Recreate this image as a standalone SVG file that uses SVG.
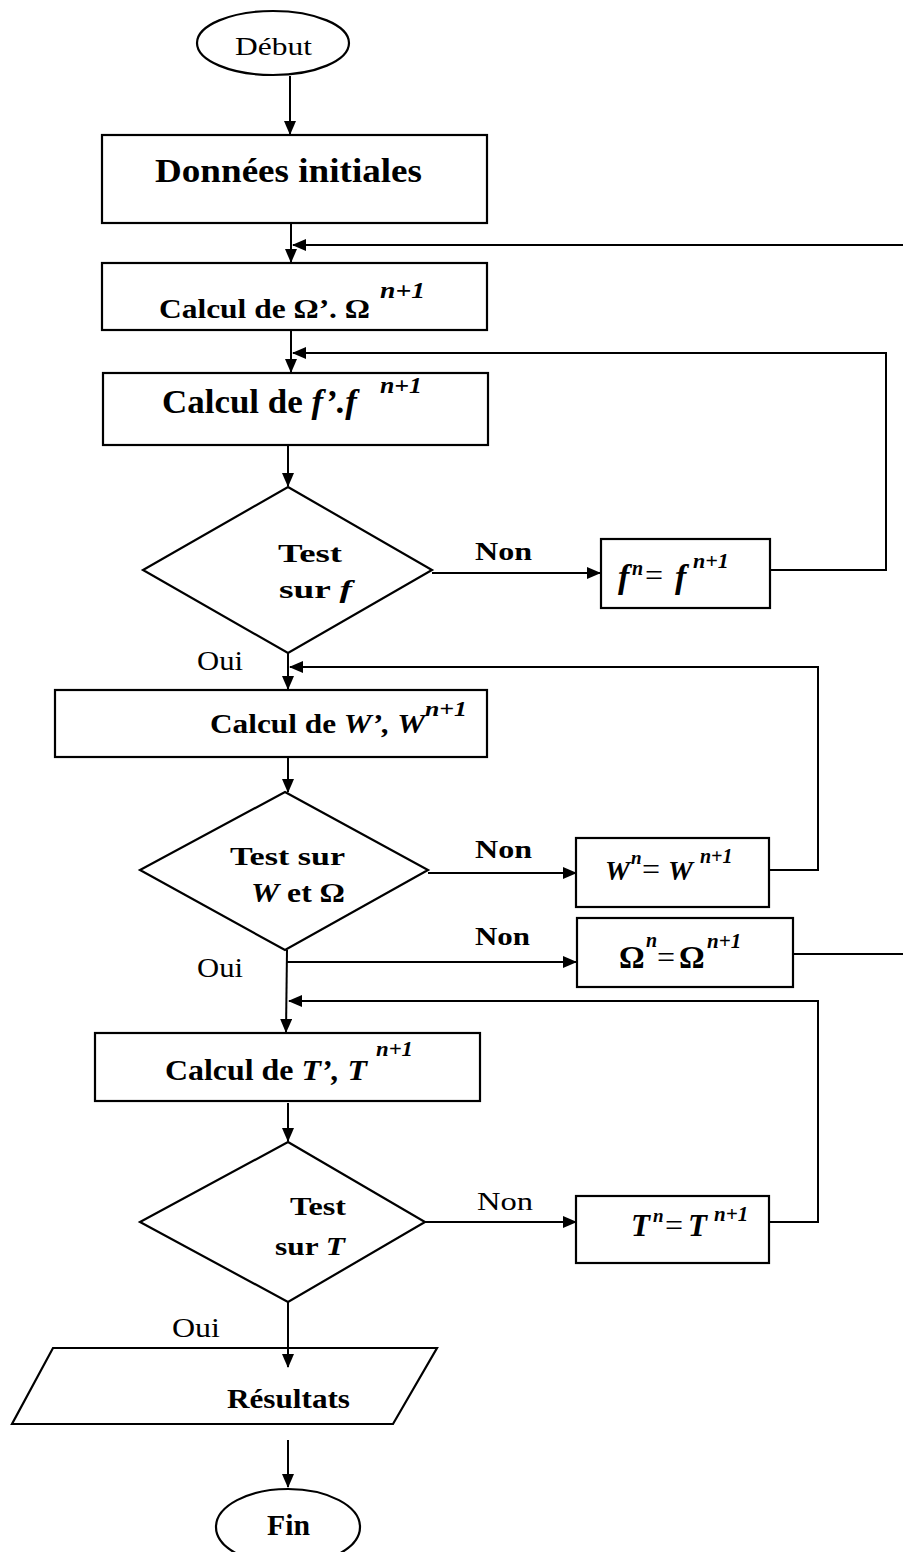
<svg xmlns="http://www.w3.org/2000/svg" width="903" height="1552" viewBox="0 0 903 1552">
<style>
.s{fill:#fff;stroke:#000;stroke-width:2.2}
.c{fill:none;stroke:#000;stroke-width:2}
text{font-family:"Liberation Serif","Times New Roman",serif;fill:#000}
.b{font-weight:bold}
.i{font-style:italic}
.bi{font-weight:bold;font-style:italic}
.r{font-weight:normal;font-style:normal}
</style>
<defs>
<marker id="a" markerUnits="userSpaceOnUse" markerWidth="14" markerHeight="12" refX="13" refY="6" orient="auto">
<path d="M0,0 L14,6 L0,12 Z" fill="#000"/>
</marker>
</defs>
<g id="debut">
<ellipse class="s" cx="273" cy="43" rx="76" ry="32"/>
<text x="235" y="55" font-size="25" textLength="77" lengthAdjust="spacingAndGlyphs">Début</text>
</g>
<g id="donnees">
<rect class="s" x="102" y="135" width="385" height="88"/>
<text class="b" x="155" y="182" font-size="33" textLength="267" lengthAdjust="spacingAndGlyphs">Données initiales</text>
</g>
<g id="calcul-omega">
<rect class="s" x="102" y="263" width="385" height="67"/>
<text class="b" x="159" y="318" font-size="28" textLength="211" lengthAdjust="spacingAndGlyphs">Calcul de Ω’. Ω</text>
<text class="bi" x="380" y="298" font-size="23" textLength="45" lengthAdjust="spacingAndGlyphs">n+1</text>
</g>
<g id="calcul-f">
<rect class="s" x="103" y="373" width="385" height="72"/>
<text class="b" x="162" y="413" font-size="34" textLength="195" lengthAdjust="spacingAndGlyphs">Calcul de <tspan class="bi">f’.f</tspan></text>
<text class="bi" x="380" y="393" font-size="23" textLength="42" lengthAdjust="spacingAndGlyphs">n+1</text>
</g>
<g id="test-f">
<path class="s" d="M288,487 L432,570 L288,653 L143,570 Z"/>
<text class="b" x="278" y="562" font-size="26" textLength="64" lengthAdjust="spacingAndGlyphs">Test</text>
<text class="b" x="279" y="598" font-size="26" textLength="73" lengthAdjust="spacingAndGlyphs">sur <tspan class="bi">f</tspan></text>
</g>
<g id="label-non1"><text class="b" x="475" y="560" font-size="25" textLength="57" lengthAdjust="spacingAndGlyphs">Non</text></g>
<g id="fn">
<rect class="s" x="601" y="539" width="169" height="69"/>
<text class="bi" font-size="34"><tspan x="618" y="588">f</tspan><tspan x="632" y="575" font-size="20">n</tspan><tspan x="645" y="586" class="r" font-size="32">=</tspan><tspan x="675" y="588">f</tspan><tspan x="693" y="568" font-size="22">n+1</tspan></text>
</g>
<g id="label-oui1"><text x="197" y="670" font-size="27" textLength="46" lengthAdjust="spacingAndGlyphs">Oui</text></g>
<g id="calcul-w">
<rect class="s" x="55" y="690" width="432" height="67"/>
<text class="b" x="210" y="733" font-size="27" textLength="215" lengthAdjust="spacingAndGlyphs">Calcul de <tspan class="bi">W’, W</tspan></text>
<text class="bi" x="425" y="716" font-size="21" textLength="42" lengthAdjust="spacingAndGlyphs">n+1</text>
</g>
<g id="test-w">
<path class="s" d="M285,792 L428,870 L285,950 L140,870 Z"/>
<text class="b" x="230" y="865" font-size="26" textLength="115" lengthAdjust="spacingAndGlyphs">Test  sur</text>
<text class="b" x="251" y="902" font-size="27" textLength="94" lengthAdjust="spacingAndGlyphs"><tspan class="bi">W</tspan> et Ω</text>
</g>
<g id="label-non2"><text class="b" x="475" y="858" font-size="25" textLength="57" lengthAdjust="spacingAndGlyphs">Non</text></g>
<g id="wn">
<rect class="s" x="576" y="838" width="193" height="69"/>
<text class="bi" font-size="28"><tspan x="605" y="880">W</tspan><tspan x="631" y="864" font-size="19">n</tspan><tspan x="642" y="880" class="r" font-size="32">=</tspan><tspan x="668" y="880">W</tspan><tspan x="700" y="863" font-size="20">n+1</tspan></text>
</g>
<g id="label-non3"><text class="b" x="475" y="945" font-size="25" textLength="55" lengthAdjust="spacingAndGlyphs">Non</text></g>
<g id="omegan">
<rect class="s" x="577" y="918" width="216" height="69"/>
<text class="b" font-size="32"><tspan x="619" y="968">Ω</tspan><tspan x="646" y="947" font-size="20" class="bi">n</tspan><tspan x="657" y="968" class="r">=</tspan><tspan x="679" y="968">Ω</tspan><tspan x="707" y="948" font-size="21" class="bi">n+1</tspan></text>
</g>
<g id="label-oui2"><text x="197" y="977" font-size="27" textLength="46" lengthAdjust="spacingAndGlyphs">Oui</text></g>
<g id="calcul-t">
<rect class="s" x="95" y="1033" width="385" height="68"/>
<text class="b" x="165" y="1080" font-size="30" textLength="202" lengthAdjust="spacingAndGlyphs">Calcul de <tspan class="bi">T’, T</tspan></text>
<text class="bi" x="376" y="1056" font-size="22" textLength="37" lengthAdjust="spacingAndGlyphs">n+1</text>
</g>
<g id="test-t">
<path class="s" d="M288,1142 L425,1222 L288,1302 L140,1222 Z"/>
<text class="b" x="290" y="1215" font-size="26" textLength="56" lengthAdjust="spacingAndGlyphs">Test</text>
<text class="b" x="275" y="1255" font-size="26" textLength="70" lengthAdjust="spacingAndGlyphs">sur <tspan class="bi">T</tspan></text>
</g>
<g id="label-non4"><text x="477" y="1210" font-size="25" textLength="56" lengthAdjust="spacingAndGlyphs">Non</text></g>
<g id="tn">
<rect class="s" x="576" y="1196" width="193" height="67"/>
<text class="bi" font-size="31"><tspan x="631" y="1236">T</tspan><tspan x="653" y="1222" font-size="19">n</tspan><tspan x="665" y="1236" class="r" font-size="32">=</tspan><tspan x="688" y="1236">T</tspan><tspan x="714" y="1221" font-size="21">n+1</tspan></text>
</g>
<g id="label-oui3"><text x="172" y="1337" font-size="27" textLength="48" lengthAdjust="spacingAndGlyphs">Oui</text></g>
<g id="resultats">
<path class="s" d="M53,1348 L437,1348 L393,1424 L12,1424 Z"/>
<text class="b" x="227" y="1408" font-size="27" textLength="123" lengthAdjust="spacingAndGlyphs">Résultats</text>
</g>
<g id="fin">
<ellipse class="s" cx="288" cy="1527" rx="72" ry="38"/>
<text class="b" x="267" y="1535" font-size="29" textLength="43" lengthAdjust="spacingAndGlyphs">Fin</text>
</g>
<g id="connectors">
<path class="c" d="M290,76 V134" marker-end="url(#a)"/>
<path class="c" d="M291,223 V262" marker-end="url(#a)"/>
<path class="c" d="M903,245 H293" marker-end="url(#a)"/>
<path class="c" d="M793,954 H903"/>
<path class="c" d="M291,330 V372" marker-end="url(#a)"/>
<path class="c" d="M770,570 H886 V353 H293" marker-end="url(#a)"/>
<path class="c" d="M288,445 V486" marker-end="url(#a)"/>
<path class="c" d="M432,573 H600" marker-end="url(#a)"/>
<path class="c" d="M288,653 V689" marker-end="url(#a)"/>
<path class="c" d="M768,870 H818 V667 H290" marker-end="url(#a)"/>
<path class="c" d="M288,757 V792" marker-end="url(#a)"/>
<path class="c" d="M428,873 H576" marker-end="url(#a)"/>
<path class="c" d="M287,950 L286,1032" marker-end="url(#a)"/>
<path class="c" d="M287,962 H576" marker-end="url(#a)"/>
<path class="c" d="M769,1222 H818 V1001 H289" marker-end="url(#a)"/>
<path class="c" d="M288,1103 V1141" marker-end="url(#a)"/>
<path class="c" d="M425,1222 H576" marker-end="url(#a)"/>
<path class="c" d="M288,1302 V1367" marker-end="url(#a)"/>
<path class="c" d="M288,1440 V1487" marker-end="url(#a)"/>
</g>
</svg>
